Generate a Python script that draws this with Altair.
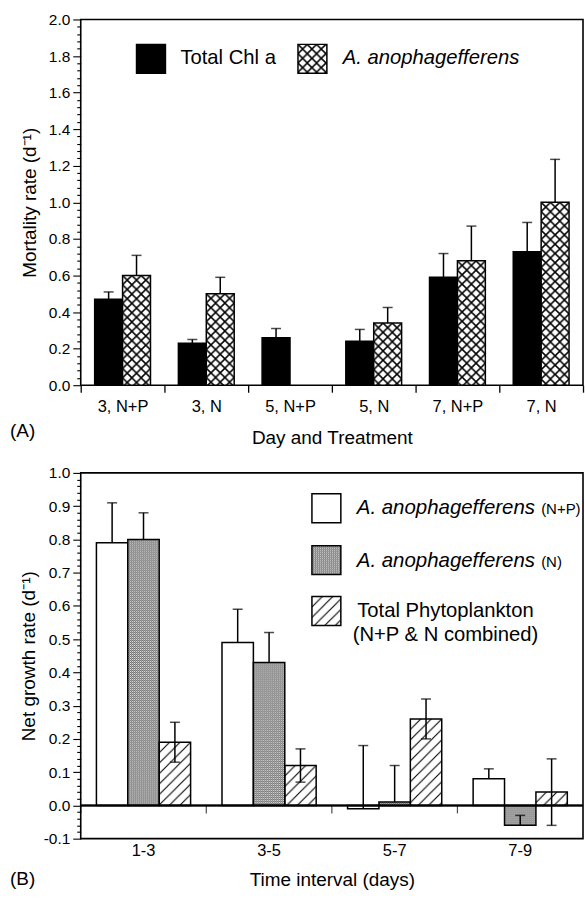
import base64

import altair as alt
import pandas as pd

FONT = "Liberation Sans"

# ---------------- Panel A: mortality by day and nutrient treatment ----------------
treatments = ["3, N+P", "3, N", "5, N+P", "5, N", "7, N+P", "7, N"]
series_a = ["Total Chl a", "A. anophagefferens"]
chl_mortality = [0.47, 0.23, 0.26, 0.24, 0.59, 0.73]
chl_mortality_upper = [0.51, 0.25, 0.31, 0.305, 0.72, 0.89]
aa_mortality = [0.60, 0.50, None, 0.34, 0.68, 1.00]
aa_mortality_upper = [0.71, 0.59, None, 0.425, 0.87, 1.235]
mortality_ticks = [0.0, 0.2, 0.4, 0.6, 0.8, 1.0, 1.2, 1.4, 1.6, 1.8, 2.0]

# ---------------- Panel B: net growth over time intervals ----------------
intervals = ["1-3", "3-5", "5-7", "7-9"]
series_b = ["A. anophagefferens (N+P)", "A. anophagefferens (N)", "Total Phytoplankton"]
aa_np_growth = [0.79, 0.49, -0.01, 0.08]
aa_np_upper = [0.91, 0.59, 0.18, 0.11]
aa_n_growth = [0.80, 0.43, 0.01, -0.06]
aa_n_upper = [0.88, 0.52, 0.12, -0.03]
phyto_growth = [0.19, 0.12, 0.26, 0.04]
phyto_upper = [0.25, 0.17, 0.32, 0.14]
phyto_lower = [0.13, 0.07, 0.20, -0.06]
growth_ticks = [-0.1, 0.0, 0.1, 0.2, 0.3, 0.4, 0.5, 0.6, 0.7, 0.8, 0.9, 1.0]

legend_a = ["Total Chl a", "A. anophagefferens"]
legend_b_species = "A. anophagefferens"
legend_b_treat = ["(N+P)", "(N)"]
legend_b_total = ["Total Phytoplankton", "(N+P & N combined)"]


def build_tables(cats, cat_field, grp_field, series, values, uppers, lowers):
    rows, caps = [], []
    for s, vals, ups, lows in zip(series, values, uppers, lowers):
        for c, v, u, lo in zip(cats, vals, ups, lows):
            if v is None:
                continue
            rows.append({cat_field: c, grp_field: s, "value": v,
                         "lo": v if lo is None else lo, "hi": u})
            caps.append({cat_field: c, grp_field: s, "cap": u})
            if lo is not None:
                caps.append({cat_field: c, grp_field: s, "cap": lo})
    return pd.DataFrame(rows), pd.DataFrame(caps)


df_a, caps_a = build_tables(
    treatments, "treatment", "measure", series_a,
    [chl_mortality, aa_mortality], [chl_mortality_upper, aa_mortality_upper],
    [[None] * 6, [None] * 6])
df_b, caps_b = build_tables(
    intervals, "interval", "group", series_b,
    [aa_np_growth, aa_n_growth, phyto_growth],
    [aa_np_upper, aa_n_upper, phyto_upper],
    [[None] * 4, [None] * 4, phyto_lower])
# baseline table: one row per interval, zero growth
df_zero = pd.DataFrame({"interval": intervals, "zero": [0.0] * len(intervals)})


# ---------------- fill patterns (tiled SVG images) ----------------
def pattern_uri(size, body):
    svg = ("<svg xmlns='http://www.w3.org/2000/svg'>"
           f"<defs><pattern id='p' width='{size}' height='{size}' patternUnits='userSpaceOnUse'>"
           f"{body}</pattern></defs>"
           "<rect width='100%' height='100%' fill='url(#p)'/></svg>")
    return "data:image/svg+xml;base64," + base64.b64encode(svg.encode()).decode()


c = 9.333
CROSS = pattern_uri(c, f"<rect width='{c}' height='{c}' fill='white'/>"
                       f"<path d='M0,0L{c},{c}M{c},0L0,{c}' stroke='black' stroke-width='1.5' fill='none'/>")
h = 10.5
HATCH = pattern_uri(h, f"<rect width='{h}' height='{h}' fill='white'/>"
                       f"<path d='M-1,1L1,-1M0,{h}L{h},0M{h - 1},{h + 1}L{h + 1},{h - 1}' "
                       "stroke='black' stroke-width='1.1' fill='none'/>")
STIPPLE = pattern_uri(2, "<rect width='2' height='2' fill='#606060'/>"
                         "<rect width='1' height='1' fill='white'/>"
                         "<rect x='1' y='1' width='1' height='1' fill='#b4b4b4'/>")

W, H = 504, 367
LW = 1.5
SW = 29  # legend swatch size


def y_axis(ticks, minor_step, k, title_pad):
    major = f"abs(datum.value*{k} - round(datum.value*{k})) < 1e-6"
    n = int(round((ticks[-1] - ticks[0]) / minor_step))
    values = [round(ticks[0] + i * minor_step, 4) for i in range(n + 1)]
    return alt.Axis(
        values=values,
        labelExpr=f"{major} ? (datum.value < 0 ? '-' : '') + format(abs(datum.value), '.1f') : ''",
        tickSize={"condition": {"test": major, "value": 8}, "value": 4},
        tickWidth=1.1, labelPadding=3, labelFontSize=15.5, titleFontSize=19,
        titlePadding=title_pad, labelOverlap=False, labelBound=False)


one = pd.DataFrame({"k": [0]})


def value_text(text, x, y, size=20.3, italic=False, align="left"):
    style = {"fontStyle": "italic"} if italic else {}
    return alt.Chart(one).mark_text(align=align, baseline="middle", fontSize=size,
                                    color="black", **style).encode(
        x=alt.value(x), y=alt.value(y), text=alt.value(text))


def swatch(x, y, fill=None, url=None):
    layers = []
    if url is not None:
        # image marks sized by width/height are placed by their centre
        layers.append(alt.Chart(one).mark_image(aspect=False, width=SW, height=SW).encode(
            x=alt.value(x + SW / 2), y=alt.value(y + SW / 2), url=alt.value(url)))
    layers.append(alt.Chart(one).mark_rect(
        fill=fill if fill is not None else "transparent", stroke="black", strokeWidth=LW).encode(
        x=alt.value(x), x2=alt.value(x + SW), y=alt.value(y), y2=alt.value(y + SW)))
    return layers


# ---------------- Panel A ----------------
xa = alt.X("treatment:N", sort=treatments, title="Day and Treatment",
           scale=alt.Scale(paddingInner=0, paddingOuter=0),
           axis=alt.Axis(labelAngle=0, tickBand="extent", tickSize=7, tickWidth=1.3,
                         labelFontSize=16.5, titleFontSize=19, labelPadding=6,
                         titlePadding=14, labelOverlap=False))
xoa = alt.XOffset("measure:N", scale=alt.Scale(domain=series_a, paddingInner=0, paddingOuter=0.5))
axis_ya = y_axis(mortality_ticks, 0.04, 5, 9)
ya_scale = alt.Scale(domain=[0, 2], nice=False, zero=False)


def ya(field):
    return alt.Y(f"{field}:Q", scale=ya_scale, axis=axis_ya, title="Mortality rate (d⁻¹)")


base_a = alt.Chart(df_a)
chl_bars = base_a.transform_filter(alt.datum.measure == series_a[0]).mark_bar(
    fill="black", stroke="black", strokeWidth=LW).encode(x=xa, xOffset=xoa, y=ya("value"))
aa_fill = base_a.transform_filter(alt.datum.measure == series_a[1]).mark_image(aspect=False).encode(
    x=xa, xOffset=xoa, y=ya("value"), url=alt.value(CROSS))
aa_edge = base_a.transform_filter(alt.datum.measure == series_a[1]).mark_bar(
    fill="transparent", stroke="black", strokeWidth=LW).encode(x=xa, xOffset=xoa, y=ya("value"))
err_a = base_a.mark_rule(color="black", strokeWidth=LW).encode(
    x=xa, xOffset=xoa, y=ya("lo"), y2="hi:Q")
cap_a = alt.Chart(caps_a).mark_tick(orient="horizontal", size=10, thickness=LW, color="black").encode(
    x=xa, xOffset=xoa, y=ya("cap"))

panel_a = alt.layer(
    chl_bars, aa_fill, aa_edge, err_a, cap_a,
    *swatch(56, 25, fill="black"),
    value_text(legend_a[0], 100, 39),
    *swatch(218, 25, url=CROSS),
    value_text(legend_a[1], 263, 39, italic=True),
    value_text("(A)", -71, 413, size=19),
).properties(width=W, height=H)

# ---------------- Panel B ----------------
axis_xb = alt.Axis(labelAngle=0, ticks=False, labelFontSize=16.5, titleFontSize=19,
                   labelPadding=4, titlePadding=12, labelOverlap=False)
xb_scale = alt.Scale(paddingInner=0, paddingOuter=0)
xb = alt.X("interval:N", sort=intervals, title="Time interval (days)", scale=xb_scale, axis=axis_xb)
xb_edge = alt.X("interval:N", sort=intervals, title="Time interval (days)", scale=xb_scale,
                axis=axis_xb, bandPosition=0)
xob = alt.XOffset("group:N", scale=alt.Scale(domain=series_b, paddingInner=0, paddingOuter=0.5))
axis_yb = y_axis(growth_ticks, 0.02, 10, 5)
yb_scale = alt.Scale(domain=[-0.1, 1.0], nice=False, zero=False)


def yb(field):
    return alt.Y(f"{field}:Q", scale=yb_scale, axis=axis_yb, title="Net growth rate (d⁻¹)")


base_b = alt.Chart(df_b)
np_bars = base_b.transform_filter(alt.datum.group == series_b[0]).mark_bar(
    fill="white", stroke="black", strokeWidth=LW).encode(x=xb, xOffset=xob, y=yb("value"))
n_fill = base_b.transform_filter(alt.datum.group == series_b[1]).mark_image(aspect=False).encode(
    x=xb, xOffset=xob, y=yb("value"), url=alt.value(STIPPLE))
tot_fill = base_b.transform_filter(alt.datum.group == series_b[2]).mark_image(aspect=False).encode(
    x=xb, xOffset=xob, y=yb("value"), url=alt.value(HATCH))
pat_edge = base_b.transform_filter(alt.datum.group != series_b[0]).mark_bar(
    fill="transparent", stroke="black", strokeWidth=LW).encode(x=xb, xOffset=xob, y=yb("value"))
zero_line = alt.Chart(df_zero).mark_rule(color="black", strokeWidth=LW).encode(y=yb("zero"))
# short ticks hanging below the zero line at each interval boundary
bounds_b = alt.Chart(df_zero).mark_tick(
    orient="vertical", size=8, thickness=1.2, yOffset=4, color="black").encode(
    x=xb_edge, y=yb("zero"))
err_b = base_b.mark_rule(color="black", strokeWidth=LW).encode(
    x=xb, xOffset=xob, y=yb("lo"), y2="hi:Q")
cap_b = alt.Chart(caps_b).mark_tick(orient="horizontal", size=10, thickness=LW, color="black").encode(
    x=xb, xOffset=xob, y=yb("cap"))

panel_b = alt.layer(
    np_bars, n_fill, tot_fill, pat_edge, zero_line, bounds_b, err_b, cap_b,
    *swatch(232, 21, fill="white"),
    value_text(legend_b_species, 277, 35, size=20.5, italic=True),
    value_text(legend_b_treat[0], 462, 36, size=15),
    *swatch(232, 73, url=STIPPLE),
    value_text(legend_b_species, 277, 88, size=20.5, italic=True),
    value_text(legend_b_treat[1], 462, 89, size=15),
    *swatch(232, 124, url=HATCH),
    value_text(legend_b_total[0], 366, 139, align="center"),
    value_text(legend_b_total[1], 366, 163, align="center"),
    value_text("(B)", -71, 407, size=19),
).properties(width=W, height=H)

chart = alt.vconcat(panel_a, panel_b, spacing=88, bounds="flush").resolve_scale(
    x="independent", y="independent", xOffset="independent"
).resolve_axis(
    x="independent", y="independent"
).properties(
    padding={"left": 9, "top": 10, "right": 0, "bottom": 0},
    background="white",
).configure(font=FONT).configure_view(
    stroke="black", strokeWidth=1.6
).configure_axis(
    labelFont=FONT, titleFont=FONT, labelColor="black", titleColor="black",
    tickColor="black", domain=False, grid=False, titleFontWeight="normal",
)

chart.save("out.html", embed_options={"renderer": "svg", "actions": False})
